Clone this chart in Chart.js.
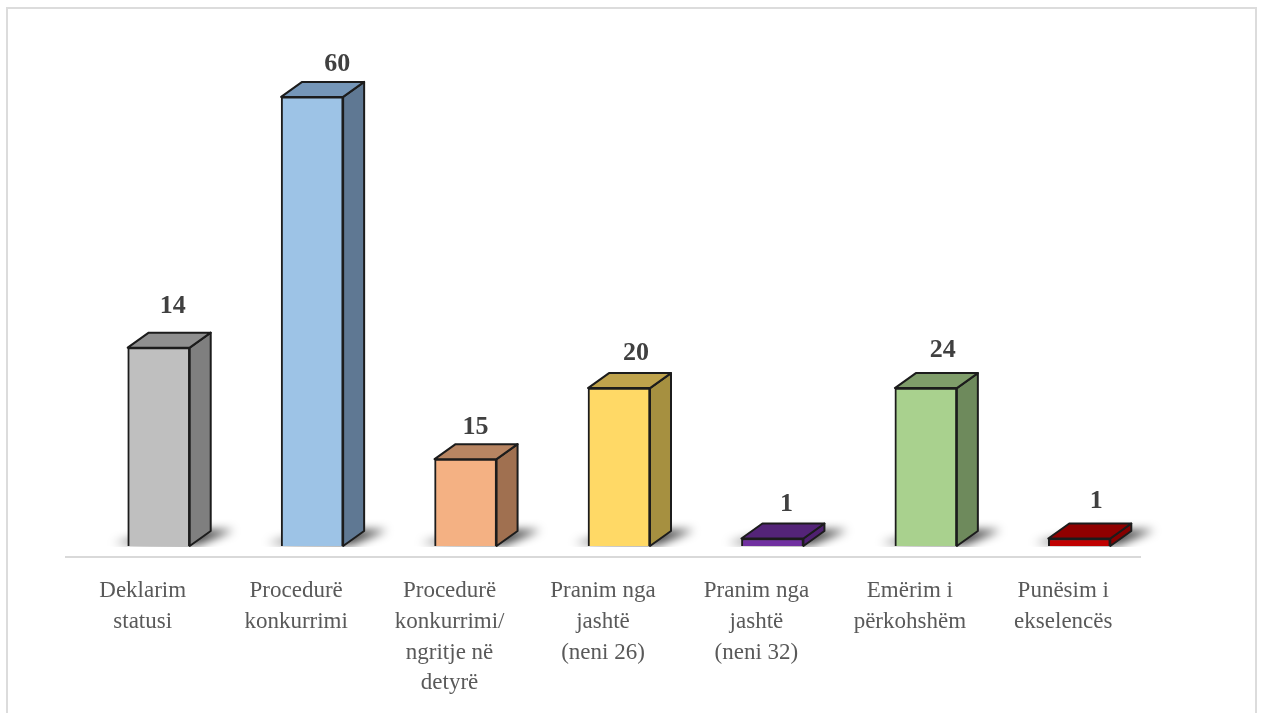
<!DOCTYPE html>
<html lang="sq">
<head>
  <meta charset="UTF-8" />
  <title>Punësime</title>
  <script src="https://cdn.jsdelivr.net/npm/chart.js"></script>
  <style>
    html, body { margin: 0; padding: 0; background: #fff; overflow: hidden; }
    #frame {
      position: absolute; left: 6px; top: 7px; right: 4px; bottom: -10px;
      border: 2px solid #dcdcdc;
    }
    #barChart { position: absolute; left: 0; top: 0; }
  </style>
</head>
<body>
  <div id="frame"></div>
  <canvas id="barChart" width="1261" height="713"></canvas>

  <script>
    const categories = [
      ["Deklarim", "statusi"],
      ["Procedurë", "konkurrimi"],
      ["Procedurë", "konkurrimi/", "ngritje në", "detyrë"],
      ["Pranim nga", "jashtë", "(neni 26)"],
      ["Pranim nga", "jashtë", "(neni 32)"],
      ["Emërim i", "përkohshëm"],
      ["Punësim i", "ekselencës"]
    ];
    // the printed labels and the drawn bar heights disagree in the original, so both are kept
    const valueLabels = [14, 60, 15, 20, 1, 24, 1];
    const barHeights = [26.5, 60, 11.6, 21.1, 1, 21.1, 1];

    const frontColors = ["#bfbfbf", "#9dc3e6", "#f4b183", "#ffd966", "#7030a0", "#a9d18e", "#c00000"];
    const topColors = ["#8f8f8f", "#7596b8", "#b88562", "#bfa34c", "#542478", "#7f9d6a", "#900000"];
    const sideColors = ["#7f7f7f", "#5f7893", "#a07050", "#a69040", "#4f2170", "#6e8a5c", "#860000"];
    // hand placed labels in the original
    const labelNudgeX = [14, 25, 10, 17, 14, 17, 17];
    const labelNudgeY = [-26, -18, -17, -20, -19, -23, -22];

    const barShift = 16;   // bars sit right of the category centre
    const depthX = 21;
    const depthY = 15;
    const outline = "#1c1c1c";

    function poly(ctx, pts) {
      ctx.beginPath();
      pts.forEach((p, i) => i ? ctx.lineTo(p[0], p[1]) : ctx.moveTo(p[0], p[1]));
      ctx.closePath();
    }

    const bars3d = {
      id: "bars3d",
      beforeDatasetsDraw(chart) {
        const ctx = chart.ctx;
        chart.getDatasetMeta(0).data.forEach((bar, i) => {
          const l = bar.x - bar.width / 2 + barShift;
          const r = bar.x + bar.width / 2 + barShift;
          const t = bar.y;
          const b = bar.base;

          // soft floor shadow
          ctx.save();
          ctx.filter = "blur(5px)";
          ctx.fillStyle = "rgba(0,0,0,0.72)";
          poly(ctx, [[l - 14, b - 3], [r + 8, b - 1], [r + 44, b - 16], [r - 10, b - 16]]);
          ctx.fill();
          ctx.restore();
          ctx.save();
          ctx.fillStyle = "#fff";
          ctx.fillRect(l - 40, b + 1, r - l + 110, 9);
          ctx.restore();

          ctx.save();
          ctx.strokeStyle = outline;
          ctx.lineWidth = 2;
          ctx.lineJoin = "round";
          ctx.fillStyle = sideColors[i];
          poly(ctx, [[r, t], [r + depthX, t - depthY], [r + depthX, b - depthY], [r, b]]);
          ctx.fill();
          ctx.stroke();
          ctx.fillStyle = topColors[i];
          poly(ctx, [[l, t], [l + depthX, t - depthY], [r + depthX, t - depthY], [r, t]]);
          ctx.fill();
          ctx.stroke();
          ctx.restore();
        });
        ctx.save();
        ctx.translate(barShift, 0);
      },
      afterDatasetsDraw(chart) {
        const ctx = chart.ctx;
        ctx.restore();
        ctx.save();
        ctx.font = "bold 26px 'Liberation Serif'";
        ctx.fillStyle = "#404040";
        ctx.textAlign = "center";
        ctx.textBaseline = "middle";
        chart.getDatasetMeta(0).data.forEach((bar, i) => {
          ctx.fillText(valueLabels[i],
            bar.x + barShift + labelNudgeX[i],
            bar.y - depthY + labelNudgeY[i]);
        });
        ctx.restore();
      }
    };

    new Chart(document.getElementById("barChart").getContext("2d"), {
      type: "bar",
      data: {
        labels: categories,
        datasets: [{
          data: barHeights,
          backgroundColor: frontColors,
          borderColor: outline,
          borderWidth: 2,
          barThickness: 62,
          clip: false
        }]
      },
      options: {
        responsive: false,
        animation: false,
        layout: { padding: { left: 66, right: 121, top: 52, bottom: 0 } },
        plugins: { legend: { display: false }, tooltip: { enabled: false } },
        scales: {
          y: { display: false, min: -1.47, max: 66 },
          x: {
            afterFit(scale) { scale.height = 156; },
            grid: { display: false, drawTicks: false },
            border: { display: true, color: "#d9d9d9", width: 2 },
            ticks: {
              autoSkip: false,
              maxRotation: 0,
              padding: 19,
              color: "#595959",
              font: { family: "'Liberation Serif'", size: 23, lineHeight: 1.33 }
            }
          }
        }
      },
      plugins: [bars3d]
    });
  </script>
</body>
</html>
